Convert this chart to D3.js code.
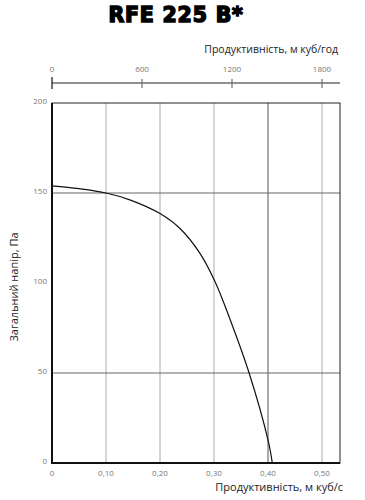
<!DOCTYPE html>
<html>
<head>
<meta charset="utf-8">
<script src="https://cdn.jsdelivr.net/npm/d3@7"></script>
<style>
    body { margin: 0; background: #fff; }
    svg { display: block; font-family: "Open Sans", "Noto Sans", sans-serif; }
</style>
</head>
<body>
<div id="chart"></div>
<script>
// --- Data ---
const flowM3s = [0, 0.05, 0.10, 0.144, 0.20, 0.237, 0.274, 0.302, 0.33, 0.365, 0.40, 0.408];
const pressurePa = [154, 152.4, 150, 146.2, 138.6, 130.3, 116.5, 100.7, 79.6, 50, 12.8, 0];
const bottomTicks = [0, 0.10, 0.20, 0.30, 0.40, 0.50];
const bottomTickLabels = ["0", "0,10", "0,20", "0,30", "0,40", "0,50"];
const topTicks = [0, 600, 1200, 1800];
const yTicks = [0, 50, 100, 150, 200];
const hGrid = [50, 150];

// --- Layout ---
const width = 365, height = 500;
const margin = { top: 103, right: 25, bottom: 37, left: 52 };
const plotW = width - margin.left - margin.right;
const plotH = height - margin.top - margin.bottom;

const svg = d3.select("#chart")
    .append("svg")
    .attr("width", width)
    .attr("height", height);

const x = d3.scaleLinear().domain([0, plotW / 540]).range([margin.left, margin.left + plotW]);
const xTop = d3.scaleLinear().domain([0, plotW / 540 * 3600]).range([margin.left, margin.left + plotW]);
const y = d3.scaleLinear().domain([0, 200]).range([margin.top + plotH, margin.top]);

// Title
svg.append("text")
    .attr("x", 176).attr("y", 22)
    .attr("text-anchor", "middle")
    .attr("font-family", "'DejaVu Sans', sans-serif")
    .attr("font-weight", 900)
    .attr("font-size", 20.5)
    .attr("stroke", "#000").attr("stroke-width", 1.5)
    .attr("letter-spacing", 0.8)
    .text("RFE 225 B*");

// Top axis
svg.append("text")
    .attr("x", 338).attr("y", 53)
    .attr("text-anchor", "end")
    .attr("font-size", 10.5)
    .attr("fill", "#222")
    .text("Продуктивність, м куб/год");

svg.append("line")
    .attr("x1", xTop(0)).attr("x2", margin.left + plotW)
    .attr("y1", 83).attr("y2", 83)
    .attr("stroke", "#222").attr("stroke-width", 1.2);

svg.selectAll(".toptick")
    .data(topTicks)
    .enter()
    .append("line")
    .attr("x1", d => xTop(d)).attr("x2", d => xTop(d))
    .attr("y1", d => d === 0 ? 77 : 79).attr("y2", d => d === 0 ? 89 : 88)
    .attr("stroke", d => d === 0 ? "#222" : "#777")
    .attr("stroke-width", 1.3);

svg.selectAll(".toplabel")
    .data(topTicks)
    .enter()
    .append("text")
    .attr("x", d => xTop(d)).attr("y", 72)
    .attr("text-anchor", "middle")
    .attr("font-size", 8)
    .attr("fill", "#777")
    .text(d => d);

// Grid
svg.selectAll(".vgrid")
    .data(bottomTicks.slice(1))
    .enter()
    .append("line")
    .attr("x1", d => x(d)).attr("x2", d => x(d))
    .attr("y1", margin.top).attr("y2", margin.top + plotH)
    .attr("stroke", d => d === 0.40 ? "#555" : "#aaa")
    .attr("stroke-width", 1);

svg.selectAll(".hgrid")
    .data(hGrid)
    .enter()
    .append("line")
    .attr("x1", margin.left).attr("x2", margin.left + plotW)
    .attr("y1", d => y(d)).attr("y2", d => y(d))
    .attr("stroke", "#666")
    .attr("stroke-width", 1);

// Frame
svg.append("rect")
    .attr("x", margin.left).attr("y", margin.top)
    .attr("width", plotW).attr("height", plotH)
    .attr("fill", "none")
    .attr("stroke", "#222").attr("stroke-width", 1);

svg.append("path")
    .attr("d", `M${margin.left},${margin.top}V${margin.top + plotH}H${margin.left + plotW}`)
    .attr("fill", "none")
    .attr("stroke", "#111").attr("stroke-width", 2);

// Curve
const points = flowM3s.map((f, i) => ({ f, p: pressurePa[i] }));
const line = d3.line()
    .x(d => x(d.f))
    .y(d => y(d.p))
    .curve(d3.curveCatmullRom.alpha(0.5));

svg.append("path")
    .datum(points)
    .attr("fill", "none")
    .attr("stroke", "#111")
    .attr("stroke-width", 1.2)
    .attr("d", line);

// Bottom labels
svg.selectAll(".blabel")
    .data(bottomTicks)
    .enter()
    .append("text")
    .attr("x", d => x(d)).attr("y", 476)
    .attr("text-anchor", "middle")
    .attr("font-size", 8)
    .attr("fill", "#777")
    .text((d, i) => bottomTickLabels[i]);

svg.append("text")
    .attr("x", 343).attr("y", 491)
    .attr("text-anchor", "end")
    .attr("font-size", 11)
    .attr("fill", "#222")
    .text("Продуктивність, м куб/с");

// Y labels
svg.selectAll(".ylabel")
    .data(yTicks)
    .enter()
    .append("text")
    .attr("x", 47).attr("y", d => y(d) + 1)
    .attr("text-anchor", "end")
    .attr("font-size", 8)
    .attr("fill", "#777")
    .text(d => d);

svg.append("text")
    .attr("transform", "translate(18,287) rotate(-90)")
    .attr("text-anchor", "middle")
    .attr("font-size", 11)
    .attr("fill", "#222")
    .text("Загальний напір, Па");
</script>
</body>
</html>
